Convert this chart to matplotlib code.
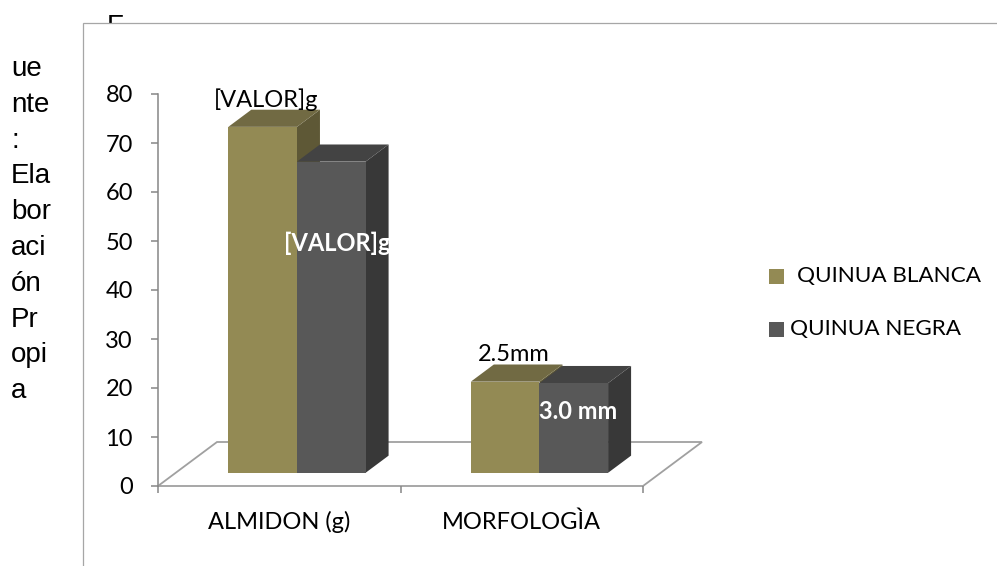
import matplotlib
matplotlib.use("Agg")
import matplotlib.pyplot as plt
from matplotlib.patches import Polygon, Rectangle

# ---- data -------------------------------------------------------------
categories = ["ALMIDON (g)", "MORFOLOGÌA"]
series_names = ["QUINUA BLANCA", "QUINUA NEGRA"]
quinua_blanca = [70.6, 18.6]
quinua_negra = [63.5, 18.3]
labels_blanca = ["[VALOR]g", "2.5mm"]
labels_negra = ["[VALOR]g", "3.0 mm"]
y_ticks = [0, 10, 20, 30, 40, 50, 60, 70, 80]
source_lines = ["ue", "nte", ":", "Ela", "bor", "aci", "ón", "Pr", "opi", "a"]

# ---- style ------------------------------------------------------------
W, H, DPI = 997, 566, 100
CHART_FONT = ["Lato", "DejaVu Sans"]
TEXT_FONT = ["Liberation Sans", "DejaVu Sans"]
FS = 17
LEGEND_FS = 16.2
AXIS_GRAY = "#868686"
FLOOR_GRAY = "#a0a0a0"
# front, top, side shades for each series
SHADES = [
    ("#938a54", "#716a43", "#5e5836"),
    ("#585858", "#434343", "#383838"),
]
BAR_W = 0.283
D_FRONT, D_BACK = 0.30, 0.69        # depth range of the columns on the floor
DEPTH_PX = (59, 44)                  # oblique offset of the full floor depth

fig = plt.figure(figsize=(W / DPI, H / DPI), dpi=DPI)


def fx(px):
    return px / W


def fy(py):
    return 1 - py / H


# heading letter partly hidden by the chart area
fig.text(fx(107), fy(34), "F", fontsize=20, family=TEXT_FONT,
         ha="left", va="baseline", zorder=-3)
fig.add_artist(Rectangle((fx(83), -0.2), 1.5, fy(23) + 0.2,
                         transform=fig.transFigure, facecolor="white",
                         edgecolor="#a6a6a6", lw=0.9, zorder=-2))

# narrow "Fuente" column
for k, line in enumerate(source_lines):
    fig.text(fx(11), fy(76 + 35.8 * k), line, fontsize=20, family=TEXT_FONT,
             ha="left", va="baseline", zorder=-1)

# ---- axes -------------------------------------------------------------
ax = fig.add_axes([fx(158), fy(486), (643 - 158) / W, (486 - 94) / H])
ax.set_xlim(0, 2)
ax.set_ylim(0, 80)
ax.patch.set_visible(False)
for s in ("top", "right", "bottom"):
    ax.spines[s].set_visible(False)
ax.spines["left"].set_color(AXIS_GRAY)
ax.spines["left"].set_linewidth(1.1)

ax.set_yticks(y_ticks)
ax.set_yticklabels([str(t) for t in y_ticks], fontsize=FS, family=CHART_FONT)
ax.set_xticks([0, 1, 2])
ax.set_xticklabels([])
ax.tick_params(axis="y", length=5, width=1.1, color=AXIS_GRAY, pad=13)
ax.tick_params(axis="x", length=5, width=1.1, color=AXIS_GRAY)

# data units of the oblique depth vector
p0 = ax.transData.transform((0, 0))
p1 = ax.transData.transform((1, 1))
DX = DEPTH_PX[0] / (p1[0] - p0[0])
DY = DEPTH_PX[1] / (p1[1] - p0[1])


def proj(x, v, d):
    return (x + d * DX, v + d * DY)


# floor
floor = [proj(0, 0, 0), proj(2, 0, 0), proj(2, 0, 1), proj(0, 0, 1)]
ax.add_patch(Polygon(floor, closed=True, facecolor="white",
                     edgecolor=FLOOR_GRAY, lw=1.3, zorder=1, clip_on=False))

# columns
series = [quinua_blanca, quinua_negra]
z = 2
for i in range(len(categories)):
    for j, vals in enumerate(series):
        front, top, side = SHADES[j]
        x0 = i + 0.5 - BAR_W + j * BAR_W
        x1 = x0 + BAR_W
        v = vals[i]
        side_face = [proj(x1, 0, D_FRONT), proj(x1, 0, D_BACK),
                     proj(x1, v, D_BACK), proj(x1, v, D_FRONT)]
        top_face = [proj(x0, v, D_FRONT), proj(x1, v, D_FRONT),
                    proj(x1, v, D_BACK), proj(x0, v, D_BACK)]
        ax.add_patch(Polygon(side_face, closed=True, facecolor=side,
                             edgecolor="none", zorder=z, clip_on=False))
        ax.add_patch(Polygon(top_face, closed=True, facecolor=top,
                             edgecolor="none", zorder=z, clip_on=False))
        ax.bar(x0 + D_FRONT * DX, v, width=BAR_W, bottom=D_FRONT * DY,
               align="edge", color=front, edgecolor="none",
               zorder=z + 0.5, clip_on=False)
        z += 1

# value labels: (text, series index, category index, offset px, colour, weight)
label_specs = [
    (labels_blanca[0], 0, 0, (3, 27), "black", "normal"),
    (labels_negra[0], 1, 0, (6, -82), "white", "bold"),
    (labels_blanca[1], 0, 1, (9, 27), "black", "normal"),
    (labels_negra[1], 1, 1, (4, -28), "white", "bold"),
]
for text, j, i, (ox, oy), col, wt in label_specs:
    v = series[j][i]
    xc = i + 0.5 - BAR_W + j * BAR_W + BAR_W / 2
    ax.annotate(text, xy=proj(xc, v, D_FRONT), xytext=(ox * 0.72, oy * 0.72),
                textcoords="offset points", ha="center", va="center",
                fontsize=FS, family=CHART_FONT, color=col, fontweight=wt,
                zorder=50, annotation_clip=False)

# category labels
for i, cat in enumerate(categories):
    ax.annotate(cat, xy=(i + 0.5, 0), xytext=(0, -36 * 0.72),
                textcoords="offset points", ha="center", va="center",
                fontsize=FS, family=CHART_FONT, annotation_clip=False)

# legend
legend_rows = [(276, 797), (329, 790)]
for j, name in enumerate(series_names):
    yc, xt = legend_rows[j]
    fig.add_artist(Rectangle((fx(769), fy(yc + 7.5)), 15 / W, 15 / H,
                             transform=fig.transFigure,
                             facecolor=SHADES[j][0], edgecolor="none"))
    fig.text(fx(xt), fy(yc), name, fontsize=LEGEND_FS, family=CHART_FONT,
             ha="left", va="center")

fig.savefig("out.png", dpi=DPI)
